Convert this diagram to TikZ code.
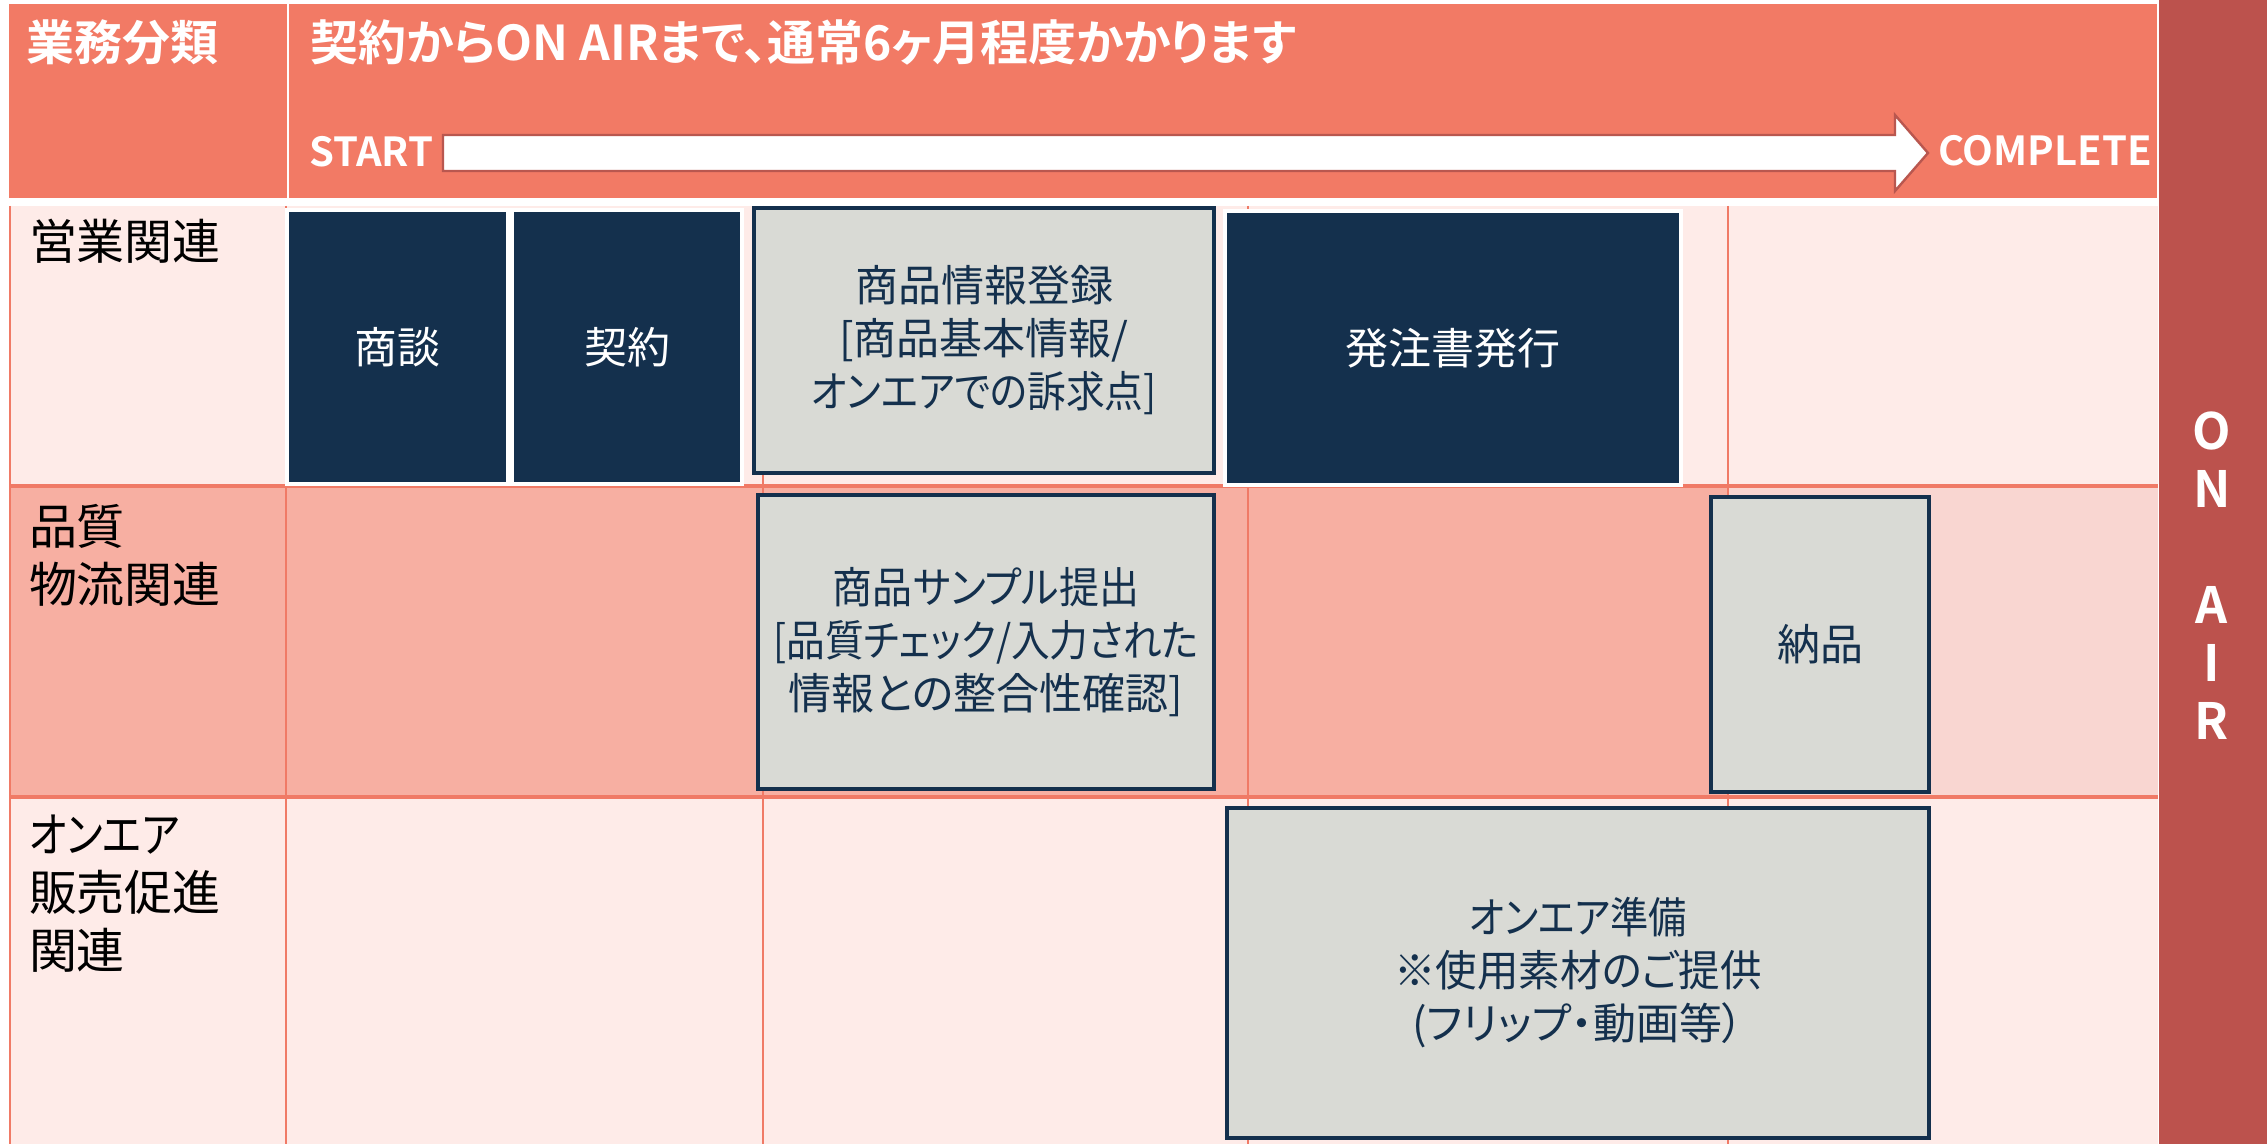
\documentclass[tikz,border=0pt]{standalone}
\usepackage{fontspec}
\setmainfont{Noto Sans CJK JP}[BoldFont=* Bold, RawFeature=+palt]
\definecolor{hdr}{HTML}{F27A65}
\definecolor{rowlight}{HTML}{FEEBE8}
\definecolor{rowmid}{HTML}{F7AFA2}
\definecolor{rowpale}{HTML}{F9D6D1}
\definecolor{gridc}{HTML}{F07A66}
\definecolor{onair}{HTML}{BC524D}
\definecolor{navy}{HTML}{14304D}
\definecolor{boxgray}{HTML}{D9DAD5}
\definecolor{arrowedge}{HTML}{B9574F}
\newcommand{\myboxfont}{\fontsize{21.5}{26.5}\selectfont}
\newcommand{\mylabelfont}{\fontsize{24}{29}\selectfont}
\newcommand{\mytitlefont}{\bfseries\fontsize{24}{29}\selectfont}
\newcommand{\mytermfont}{\bfseries\fontsize{20}{24}\selectfont}
\newcommand{\myonairfont}{\bfseries\fontsize{25}{29}\selectfont}
\newcommand{\narrow}[2]{{\addfontfeature{FakeStretch=#1}#2}}
\begin{document}
\begin{tikzpicture}[x=0.5pt,y=-0.5pt,
  every node/.style={inner sep=0pt, outer sep=0pt},
  navybox/.style={fill=navy, draw=white, line width=2pt, text=white, font=\myboxfont, align=center},
  graybox/.style={fill=boxgray, draw=navy, line width=2pt, text=navy, font=\myboxfont, align=center},
  rowlabel/.style={anchor=north west, align=left, font=\mylabelfont, text=black},
  gridline/.style={draw=gridc, line width=1pt},
  hline/.style={draw=gridc, line width=1.6pt},
  hdrtext/.style={text=white, font=\mytitlefont, anchor=west},
  termtext/.style={text=white, font=\mytermfont, anchor=west},
  arrowbody/.style={fill=white, draw=arrowedge, line width=1.2pt, line join=miter}]

\useasboundingbox (0,0) rectangle (2267,1144);
\fill[white] (0,0) rectangle (2267,1144);

% row backgrounds
\fill[rowlight] (10,206) rectangle (2158,486);
\fill[rowmid] (10,486) rectangle (1728,797);
\fill[rowpale] (1728,486) rectangle (2158,797);
\fill[rowlight] (10,797) rectangle (2158,1144);

% grid
\draw[gridline] (10,206) -- (10,1144);
\draw[gridline] (286,206) -- (286,1144);
\draw[gridline] (763,206) -- (763,1144);
\draw[gridline] (1248,206) -- (1248,1144);
\draw[gridline] (1728,206) -- (1728,1144);
\draw[hline] (10,486) -- (2158,486);
\draw[hline] (10,797) -- (2158,797);

% header
\fill[hdr] (9,4) rectangle (287,198);
\fill[hdr] (289,4) rectangle (2157,198);

% ON AIR bar
\fill[onair] (2159,0) rectangle (2267,1144);

% arrow
\draw[arrowbody] (443,135) -- (1895,135) -- (1895,115) -- (1928,153) -- (1895,191) -- (1895,171) -- (443,171) -- cycle;

% header texts
\node[hdrtext] (cat) at (26,42) {業務分類};
\node[hdrtext] (ttl) at (310,42) {契約からON AIRまで、通常6ヶ月程度かかります};
\node[termtext] (start) at (309,152) {START};
\node[termtext] (complete) at (1938,151) {COMPLETE};
\node[text=white, font=\myonairfont, align=center] (onairtxt) at (2212,576) {O\\N\\\mbox{}\\A\\I\\R};

% row labels
\node[rowlabel] (lab1) at (29,219) {営業関連};
\node[rowlabel] (lab2) at (29,504) {品質\\物流関連};
\node[rowlabel] (lab3) at (29,815) {\narrow{0.85}{オンエア}\\販売促進\\関連};

% boxes
\node[navybox, minimum width=110.5pt, minimum height=137pt] (shodan) at (397.5,347) {商談};
\node[navybox, minimum width=115pt, minimum height=137pt] (keiyaku) at (627,347) {契約};
\node[graybox, minimum width=230pt, minimum height=132.5pt] (touroku) at (984,340.5)
  {商品情報登録\\{[}商品基本情報/\\\narrow{0.9}{オンエアでの訴求点]}};
\node[navybox, minimum width=228pt, minimum height=137pt] (hacchu) at (1453,348) {発注書発行};
\node[graybox, minimum width=228pt, minimum height=147pt] (sample) at (986,642)
  {\narrow{0.93}{商品サンプル提出}\\\narrow{0.9}{[品質チェック/入力された}\\情報との整合性確認]};
\node[graybox, minimum width=109pt, minimum height=147.5pt] (nohin) at (1820,644.5) {納品};
\node[graybox, minimum width=351pt, minimum height=165pt] (junbi) at (1578,973)
  {\narrow{0.89}{オンエア準備}\\\narrow{0.965}{※使用素材のご提供}\\(フリップ・動画等）};
\end{tikzpicture}
\end{document}
